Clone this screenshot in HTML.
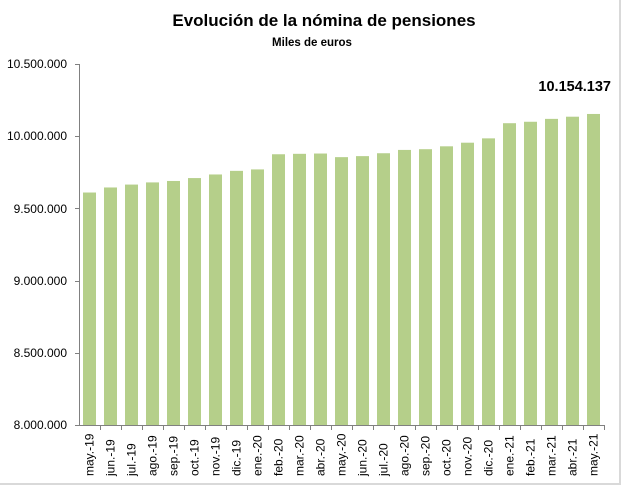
<!DOCTYPE html>
<html><head><meta charset="utf-8"><style>
body{margin:0;background:#fff;}
svg text{font-family:"Liberation Sans",sans-serif;}
</style></head><body>
<svg width="622" height="487" viewBox="0 0 622 487" xmlns="http://www.w3.org/2000/svg">
<rect x="0" y="0" width="622" height="487" fill="#fff"/>
<line x1="620" y1="0" x2="620" y2="484" stroke="#d9d9d9" stroke-width="2"/>
<line x1="0" y1="484" x2="621" y2="484" stroke="#d9d9d9" stroke-width="2"/>
<text x="324" y="26" text-anchor="middle" font-size="17" font-weight="bold" fill="#000">Evolución de la nómina de pensiones</text>
<text x="312" y="46" text-anchor="middle" font-size="11.5" font-weight="bold" fill="#000">Miles de euros</text>
<g font-size="12" fill="#000" text-anchor="end">
<text x="67" y="68">10.500.000</text>
<text x="67" y="140">10.000.000</text>
<text x="67" y="213">9.500.000</text>
<text x="67" y="285">9.000.000</text>
<text x="67" y="357">8.500.000</text>
<text x="67" y="429">8.000.000</text>
</g>
<g stroke="#808080" stroke-width="1">
<line x1="79.5" y1="64" x2="79.5" y2="425"/>
<line x1="79" y1="425.5" x2="604" y2="425.5"/>
<line x1="75" y1="64.5" x2="79" y2="64.5"/>
<line x1="75" y1="136.5" x2="79" y2="136.5"/>
<line x1="75" y1="208.5" x2="79" y2="208.5"/>
<line x1="75" y1="281.5" x2="79" y2="281.5"/>
<line x1="75" y1="353.5" x2="79" y2="353.5"/>
<line x1="75" y1="425.5" x2="79" y2="425.5"/>
</g>
<g id="bars" fill="#b5cf8a"></g>
<g id="ticks" stroke="#808080"></g>
<g id="labs" font-size="12" fill="#000"></g>
<text x="611" y="91" text-anchor="end" font-size="14.5" font-weight="bold" fill="#000">10.154.137</text>
<script>
var v=[9.61,9.645,9.665,9.68,9.69,9.71,9.735,9.76,9.77,9.875,9.878,9.88,9.855,9.862,9.882,9.905,9.91,9.93,9.955,9.985,10.09,10.1,10.12,10.135,10.154];
var l=["may.-19","jun.-19","jul.-19","ago.-19","sep.-19","oct.-19","nov.-19","dic.-19","ene.-20","feb.-20","mar.-20","abr.-20","may.-20","jun.-20","jul.-20","ago.-20","sep.-20","oct.-20","nov.-20","dic.-20","ene.-21","feb.-21","mar.-21","abr.-21","may.-21"];
var ns="http://www.w3.org/2000/svg",b=document.getElementById("bars"),t=document.getElementById("ticks"),g=document.getElementById("labs");
for(var i=0;i<25;i++){var c=79+10.5+21*i;var y=425-(v[i]-8)*144.4;
var r=document.createElementNS(ns,"rect");r.setAttribute("x",c-6.5);r.setAttribute("y",y);r.setAttribute("width",13);r.setAttribute("height",425-y);b.appendChild(r);
var k=document.createElementNS(ns,"line");var tx=79.5+21*(i+1);k.setAttribute("x1",tx);k.setAttribute("x2",tx);k.setAttribute("y1",425);k.setAttribute("y2",430);t.appendChild(k);
var s=document.createElementNS(ns,"text");s.setAttribute("transform","translate("+(c+4)+",476) rotate(-90)");s.textContent=l[i];g.appendChild(s);}
</script>
</svg>
</body></html>
